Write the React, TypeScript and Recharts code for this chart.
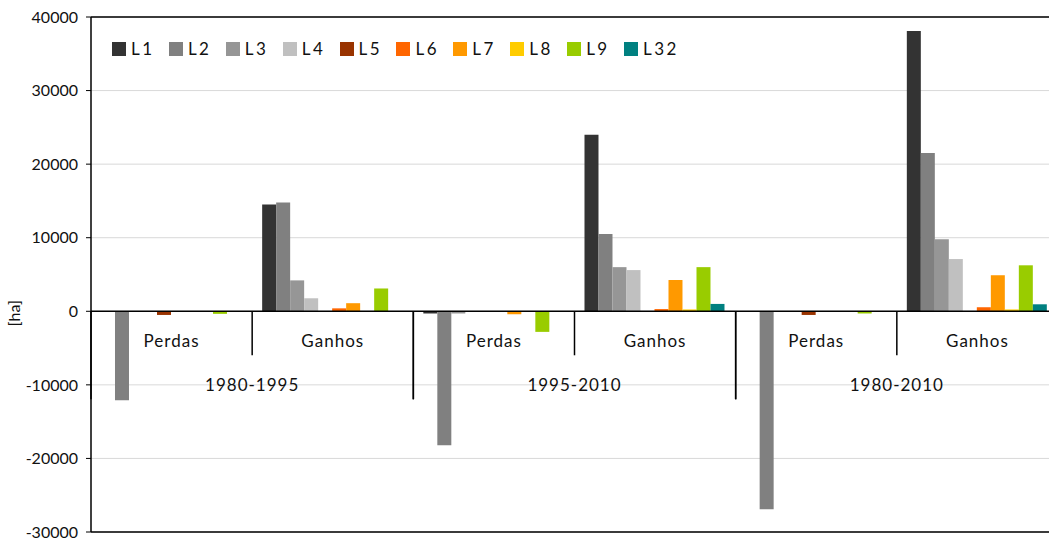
import React from "react";
import {
  BarChart,
  Bar,
  XAxis,
  YAxis,
  CartesianGrid,
  ReferenceLine,
  ReferenceDot,
} from "recharts";

const periods = ["1980-1995", "1995-2010", "1980-2010"];
const kinds = ["Perdas", "Ganhos"];

const seriesNames = ["L1", "L2", "L3", "L4", "L5", "L6", "L7", "L8", "L9", "L32"];
const seriesColors = [
  "#333333",
  "#808080",
  "#969696",
  "#c0c0c0",
  "#993300",
  "#ff6600",
  "#ff9900",
  "#ffcc00",
  "#99cc00",
  "#008080",
];

// values per category: P 80-95, G 80-95, P 95-10, G 95-10, P 80-10, G 80-10
const L1 = [0, 14500, -300, 24000, -100, 38100];
const L2 = [-12100, 14800, -18200, 10500, -26900, 21500];
const L3 = [0, 4200, -300, 6000, 0, 9800];
const L4 = [0, 1770, 0, 5600, 0, 7100];
const L5 = [-500, 0, 0, 0, -500, 0];
const L6 = [0, 400, 0, 300, 0, 550];
const L7 = [-100, 1100, -400, 4250, -100, 4900];
const L8 = [0, 0, 0, 250, 0, 250];
const L9 = [-350, 3100, -2800, 6000, -300, 6250];
const L32 = [0, 0, 0, 1000, 0, 950];

const yTicks = [-30000, -20000, -10000, 0, 10000, 20000, 30000, 40000];
const yLabel = "[ha]";

const seriesValues = [L1, L2, L3, L4, L5, L6, L7, L8, L9, L32];

const data = periods.flatMap((p, pi) =>
  kinds.map((k, ki) => {
    const row: Record<string, number | string> = { key: `${p}|${k}`, period: p, kind: k };
    seriesNames.forEach((s, si) => {
      row[s] = seriesValues[si][pi * 2 + ki];
    });
    return row;
  })
);

// the original chart runs past the right edge of the picture
const VIEW_W = 1049;
const W = 1058;
const H = 542;
const M = { top: 17, right: 0, bottom: 10, left: 0 };
const Y_W = 91;
const BAND = (W - Y_W - M.left - M.right) / data.length;
const FONT = "Lato, 'Open Sans', sans-serif";

function CatLabel(props: any) {
  const { viewBox, kind, period, first } = props;
  const x = viewBox.x + (viewBox.width || 0) / 2;
  const y = viewBox.y + (viewBox.height || 0) / 2;
  const left = x - BAND / 2;
  const right = x + BAND / 2;
  const txt = {
    textAnchor: "middle" as const,
    dominantBaseline: "central" as const,
    fontFamily: FONT,
    fontSize: 17,
    letterSpacing: 1,
    fill: "#111",
  };
  return (
    <g>
      <text x={x} y={y + 29} {...txt}>
        {kind}
      </text>
      {first && (
        <text
          x={left - 77}
          y={y + 2}
          {...txt}
          fontSize={16}
          letterSpacing={0}
          transform={`rotate(-90 ${left - 77} ${y + 2})`}
        >
          {yLabel}
        </text>
      )}
      {kind === "Perdas" ? (
        <line x1={left} x2={left} y1={y} y2={y + 88} stroke="#000" strokeWidth={1.5} />
      ) : (
        <>
          <line x1={left} x2={left} y1={y} y2={y + 44} stroke="#000" strokeWidth={1.5} />
          <line x1={right} x2={right} y1={y} y2={y + 88} stroke="#000" strokeWidth={1.5} />
          <text x={left} y={y + 73} {...txt}>
            {period}
          </text>
        </>
      )}
    </g>
  );
}

export default function App() {
  return (
    <div
      style={{
        position: "absolute",
        left: 0,
        top: 0,
        width: VIEW_W,
        height: H,
        overflow: "hidden",
        background: "#fff",
      }}
    >
      <BarChart
        width={W}
        height={H}
        data={data}
        margin={M}
        barCategoryGap="6.2%"
        barGap={0}
      >
        <CartesianGrid vertical={false} stroke="#d9d9d9" />
        <XAxis dataKey="key" hide />
        <YAxis
          width={Y_W}
          domain={[-30000, 40000]}
          ticks={yTicks}
          interval={0}
          allowDataOverflow
          axisLine={{ stroke: "#000", strokeWidth: 1.5 }}
          tickLine={{ stroke: "#000" }}
          tickSize={5}
          tickMargin={8}
          tick={{ fontFamily: FONT, fontSize: 16, fill: "#111" }}
        />
        {seriesNames.map((s, i) => (
          <Bar key={s} dataKey={s} fill={seriesColors[i]} isAnimationActive={false} />
        ))}
        <ReferenceLine y={40000} stroke="#000" strokeWidth={1.5} />
        <ReferenceLine y={-30000} stroke="#000" strokeWidth={1.5} />
        <ReferenceLine y={0} stroke="#000" strokeWidth={1.5} />
        {data.map((d, i) => (
          <ReferenceDot
            key={d.key as string}
            x={d.key as string}
            y={0}
            r={0}
            fill="none"
            stroke="none"
            label={<CatLabel kind={d.kind} period={d.period} first={i === 0} />}
          />
        ))}
      </BarChart>
      <div
        style={{
          position: "absolute",
          left: 112,
          top: 38,
          display: "flex",
          fontFamily: FONT,
          fontSize: 17,
          color: "#111",
        }}
      >
        {seriesNames.map((s, i) => (
          <div key={s} style={{ display: "flex", alignItems: "center", width: 56.9 }}>
            <span
              style={{
                display: "inline-block",
                width: 14,
                height: 14,
                background: seriesColors[i],
                marginRight: 5,
              }}
            />
            <span style={{ letterSpacing: 2.5 }}>{s}</span>
          </div>
        ))}
      </div>
    </div>
  );
}
